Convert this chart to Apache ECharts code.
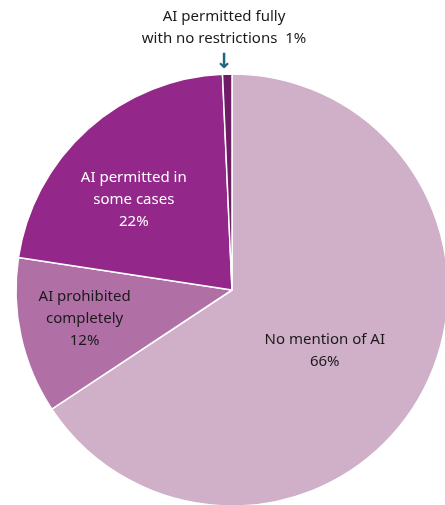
<!DOCTYPE html>
<html><head><meta charset="utf-8">
<script src="https://cdn.jsdelivr.net/npm/echarts@6/dist/echarts.min.js"></script>
<style>html,body{margin:0;padding:0;background:#fff}#c{width:445px;height:505px}</style>
</head><body><div id="c"></div>
<script>
const categories = ['No mention of AI', 'AI prohibited\ncompletely', 'AI permitted in\nsome cases', 'AI permitted fully\nwith no restrictions'];
const values = [65.7, 11.7, 21.9, 0.7];
const shownPercents = [66, 12, 22, 1];
const colors = ['#d0afc9', '#b070a6', '#93278a', '#6e1c66'];
const labelColors = ['#1a1a1a', '#1a1a1a', '#ffffff', '#1a1a1a'];
const labelShift = [[-5, 8], [-39, 5], [-24, -8]];
const FONT = 'Noto Sans, Liberation Sans, Arial, sans-serif';

const chart = echarts.init(document.getElementById('c'), null, {renderer: 'canvas'});
const data = categories.map((name, i) => {
  const item = {name, value: values[i], itemStyle: {color: colors[i]}};
  if (i === 3) {
    item.label = {
      position: 'outside',
      formatter: '{t|AI permitted fully}\n{t|with no restrictions  ' + shownPercents[i] + '%}\n{a|↓}',
      rich: {
        t: {fontSize: 15, lineHeight: 22, color: '#1a1a1a', fontFamily: FONT},
        a: {fontSize: 21, lineHeight: 26, color: '#1e6584', fontFamily: 'DejaVu Sans', fontWeight: 'bold'}
      }
    };
    item.labelLine = {show: false};
  } else {
    item.label = {color: labelColors[i]};
  }
  return item;
});

chart.setOption({
  animation: false,
  series: [{
    type: 'pie',
    center: [232, 290],
    radius: [0, 216],
    startAngle: 90,
    clockwise: true,
    avoidLabelOverlap: false,
    itemStyle: {borderColor: '#ffffff', borderWidth: 1.5},
    label: {
      show: true,
      position: 'inside',
      fontSize: 15,
      lineHeight: 22,
      fontFamily: FONT,
      formatter: p => p.name + '\n' + shownPercents[p.dataIndex] + '%'
    },
    labelLayout: params => {
      const i = params.dataIndex;
      if (i === 3) {
        return {x: 224, y: 76, align: 'center', verticalAlign: 'bottom'};
      }
      return {dx: labelShift[i][0], dy: labelShift[i][1]};
    },
    data
  }]
});
</script></body></html>
